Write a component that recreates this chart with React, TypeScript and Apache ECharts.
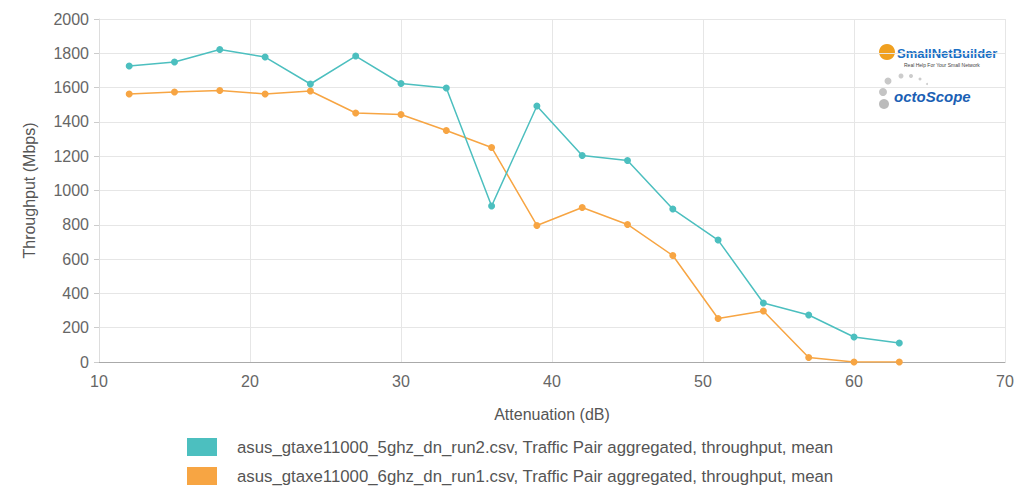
import React, { useEffect, useRef } from "react";
import * as echarts from "echarts";

const attenuation = [12, 15, 18, 21, 24, 27, 30, 33, 36, 39, 42, 45, 48, 51, 54, 57, 60, 63];
const run5ghz = [1726, 1749, 1822, 1778, 1621, 1784, 1624, 1598, 910, 1493, 1204, 1175, 892, 711, 344, 274, 146, 111];
const run6ghz = [1563, 1574, 1583, 1563, 1580, 1452, 1443, 1350, 1251, 796, 901, 802, 621, 254, 297, 26, 0, 0];
const seriesNames = [
  "asus_gtaxe11000_5ghz_dn_run2.csv, Traffic Pair aggregated, throughput, mean",
  "asus_gtaxe11000_6ghz_dn_run1.csv, Traffic Pair aggregated, throughput, mean",
];
const colors = ["#4cbfbf", "#f7a543"];

export default function App() {
  const ref = useRef<HTMLDivElement>(null);
  useEffect(() => {
    if (!ref.current) return;
    const chart = echarts.init(ref.current, null, { renderer: "svg" });
    const font = "'Liberation Sans', Arial, sans-serif";
    chart.setOption({
      animation: false,
      color: colors,
      textStyle: { fontFamily: font },
      grid: { left: 99, right: 19, top: 19, bottom: 135 },
      xAxis: {
        type: "value",
        min: 10,
        max: 70,
        interval: 10,
        name: "Attenuation (dB)",
        nameLocation: "middle",
        nameGap: 44,
        nameTextStyle: { color: "#555", fontSize: 16, fontFamily: font },
        axisLine: { show: true, lineStyle: { color: "#aaa" } },
        axisTick: { show: false },
        axisLabel: { color: "#666", fontSize: 16, margin: 11, fontFamily: font },
        splitLine: { show: true, lineStyle: { color: "#e6e6e6" } },
      },
      yAxis: {
        type: "value",
        min: 0,
        max: 2000,
        interval: 200,
        name: "Throughput (Mbps)",
        nameLocation: "middle",
        nameGap: 62,
        nameTextStyle: { color: "#555", fontSize: 16, fontFamily: font },
        axisLine: { show: true, lineStyle: { color: "#ddd" } },
        axisTick: { show: true, length: 5, lineStyle: { color: "#ccc" } },
        axisLabel: { color: "#666", fontSize: 16, margin: 10, fontFamily: font, formatter: (v: number) => String(v) },
        splitLine: { show: true, lineStyle: { color: "#e6e6e6" } },
      },
      legend: {
        orient: "vertical",
        left: 182,
        top: 433,
        itemWidth: 30,
        itemHeight: 18,
        itemGap: 11,
        icon: "rect",
        textStyle: { color: "#555", fontSize: 16.8, fontFamily: font, padding: [0, 0, 0, 15] },
        data: seriesNames,
      },
      graphic: [
        { type: "circle", shape: { cx: 887, cy: 52, r: 8 }, style: { fill: "#f0a020" } },
        { type: "text", left: 897, top: 47, style: { text: "SmallNetBuilder", fill: "#1a6fc4", font: "bold 13px 'Liberation Sans', Arial, sans-serif" } },
        { type: "text", left: 904, top: 62, style: { text: "Real Help For Your Small Network", fill: "#444", font: "5px 'Liberation Sans', Arial, sans-serif" } },
        { type: "circle", shape: { cx: 884, cy: 104, r: 5 }, style: { fill: "#bbb" } },
        { type: "circle", shape: { cx: 883, cy: 92, r: 4 }, style: { fill: "#c4c4c4" } },
        { type: "circle", shape: { cx: 888, cy: 81, r: 3.5 }, style: { fill: "#c8c8c8" } },
        { type: "circle", shape: { cx: 901, cy: 76, r: 2.5 }, style: { fill: "#ccc" } },
        { type: "circle", shape: { cx: 911, cy: 76, r: 2 }, style: { fill: "#ccc" } },
        { type: "circle", shape: { cx: 920, cy: 79, r: 1.5 }, style: { fill: "#ccc" } },
        { type: "circle", shape: { cx: 927, cy: 84, r: 1 }, style: { fill: "#ccc" } },
        { type: "text", left: 894, top: 89, style: { text: "octoScope", fill: "#1a5fb4", font: "italic bold 15px 'Liberation Sans', Arial, sans-serif" } },
      ],
      series: [run5ghz, run6ghz].map((vals, i) => ({
        name: seriesNames[i],
        type: "line",
        data: attenuation.map((a, j) => [a, vals[j]]),
        symbol: "circle",
        symbolSize: 7,
        lineStyle: { width: 1.5 },
        z: 2 - i,
      })),
    });
    return () => chart.dispose();
  }, []);
  return <div ref={ref} style={{ width: 1024, height: 497, position: "absolute", left: 0, top: 0 }} />;
}
